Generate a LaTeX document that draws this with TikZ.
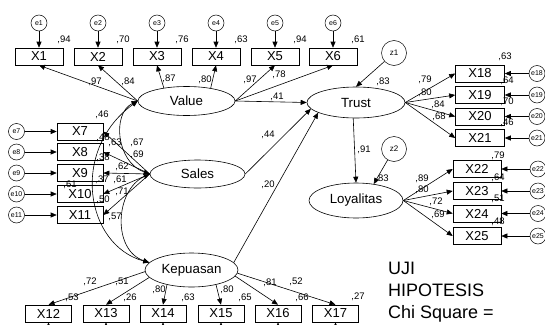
\documentclass[tikz,border=0pt]{standalone}
\usepackage{fontspec}
\setmainfont{Liberation Sans}
\usetikzlibrary{arrows.meta,shapes.geometric}
\begin{document}
\begin{tikzpicture}[x=1pt,y=-1pt,
  obs/.style={draw, line width=0.6pt, minimum height=17pt, inner sep=0pt, font=\fontsize{13}{13}\selectfont},
  lat/.style={draw, ellipse, line width=0.6pt, inner sep=0pt, font=\fontsize{13.3}{14}\selectfont},
  err/.style={draw, circle, line width=0.5pt, minimum size=16pt, inner sep=0pt, font=\fontsize{7}{7}\selectfont},
  res/.style={draw, circle, line width=0.5pt, minimum size=25pt, inner sep=0pt, font=\fontsize{8}{9}\selectfont},
  coef/.style={inner sep=0pt, font=\fontsize{9.5}{10}\selectfont},
  big/.style={inner sep=0pt, anchor=base west, font=\fontsize{18}{22}\selectfont},
  arr/.style={line width=0.6pt, -{Triangle[length=6pt,width=5pt]}},
  cov/.style={line width=0.6pt, {Triangle[length=6pt,width=5pt]}-{Triangle[length=6pt,width=5pt]}},
]
\useasboundingbox (0,0) rectangle (545,324);
\clip (0,0) rectangle (545,324);
\fill[white] (0,0) rectangle (545,324);

% latent variables
\node[lat, minimum width=97pt, minimum height=29pt] (V) at (186.5,101) {Value};
\node[lat, minimum width=95pt, minimum height=28pt] (S) at (197.5,174) {Sales};
\node[lat, minimum width=93pt, minimum height=34pt] (K) at (191.5,270) {Kepuasan};
\node[lat, minimum width=98pt, minimum height=31pt] (T) at (356,102.5) {Trust};
\node[lat, minimum width=94pt, minimum height=35pt] (L) at (356,200.5) {Loyalitas};
\node[res] (z1) at (394,53) {z1};
\node[res] (z2) at (394,149) {z2};

% top indicators
\foreach \i/\x in {1/39,2/98,3/157,4/216,5/275,6/333}{
  \node[obs, minimum width=48pt] (X\i) at (\x,56.5) {X\i};
  \node[err] (e\i) at (\x,23) {e\i};
  \draw[arr] (e\i) -- (X\i);
}
% left indicators
\foreach \i/\y in {7/131.5,8/152,9/173,10/194,11/215}{
  \node[obs, minimum width=46pt] (X\i) at (80,\y) {X\i};
  \node[err] (e\i) at (16.5,\y) {e\i};
  \draw[arr] (e\i) -- (X\i);
}
% right indicators
\foreach \i/\y in {18/73.5,19/95,20/116.5,21/138}{
  \node[obs, minimum width=49pt] (X\i) at (480,\y) {X\i};
  \node[err] (e\i) at (537,\y) {e\i};
  \draw[arr] (e\i) -- (X\i);
}
\foreach \i/\y in {22/169,23/191,24/213.5,25/236}{
  \node[obs, minimum width=48pt] (X\i) at (477,\y) {X\i};
  \node[err] (e\i) at (538,\y) {e\i};
  \draw[arr] (e\i) -- (X\i);
}
% bottom indicators
\foreach \i/\x in {12/48.5,13/106,14/163,15/221,16/278,17/335.5}{
  \node[obs, minimum width=46pt] (X\i) at (\x,313.5) {X\i};
  \coordinate (b\i) at (\x,345);
  \draw[arr] (b\i) -- (X\i.south);
}

% loadings
\draw[arr] (V.west) -- (X1.south);
\draw[arr] (V.west) -- (X2.south);
\draw[arr] (V.150) -- (X3.south);
\draw[arr] (V.28) -- (X4.south);
\draw[arr] (V.east) -- (X5.south);
\draw[arr] (V.east) -- (X6.south);
\foreach \i in {7,8,9,10,11}{\draw[arr] (S.west) -- (X\i.east);}
\draw[arr] (K.182) -- (X12.north);
\draw[arr] (K.190) -- (X13.north);
\draw[arr] (K.211) -- (X14.north);
\draw[arr] (K.329) -- (X15.north);
\draw[arr] (K.352) -- (X16.north);
\draw[arr] (K.356) -- (X17.north);
\foreach \i in {18,19,20,21}{\draw[arr] (T.east) -- (X\i.west);}
\foreach \i in {22,23,24,25}{\draw[arr] (L.east) -- (X\i.west);}

% structural paths
\draw[arr] (V.east) -- (T.west);
\draw[arr] (S.east) -- (T.188);
\draw[arr] (K.10) -- (T.195);
\draw[arr] (T.260) -- (L.north);
\draw[arr] (z1) -- (T.north);
\draw[arr] (z2) -- (L.43);

% covariances
\draw[cov] (V.west) .. controls (112,113) and (116,162) .. (S.west);
\draw[cov] (S.west) .. controls (115,190) and (112,250) .. (K.170);
\draw[cov] (V.west) .. controls (70,150) and (85,245) .. (K.170);

% coefficients: top
\node[coef] (c1) at (64,40) {,94};
\node[coef] (c2) at (123,40) {,70};
\node[coef] (c3) at (182,40) {,76};
\node[coef] (c4) at (241,40) {,63};
\node[coef] (c5) at (300,40) {,94};
\node[coef] (c6) at (358,40) {,61};
\node[coef] (c7) at (95,82) {,97};
\node[coef] (c8) at (128,82) {,84};
\node[coef] (c9) at (169,79) {,87};
\node[coef] (c10) at (205,80) {,80};
\node[coef] (c11) at (250,80) {,97};
\node[coef] (c12) at (279,75) {,78};
% structural
\node[coef] (c13) at (277,97) {,41};
\node[coef] (c14) at (268,135) {,44};
\node[coef] (c15) at (268,185) {,20};
\node[coef] (c16) at (383,82) {,83};
\node[coef] (c17) at (382,179) {,83};
\node[coef] (c18) at (364,150) {,91};
% trust
\node[coef] (c19) at (425,80) {,79};
\node[coef] (c20) at (425,93) {,80};
\node[coef] (c21) at (438,105) {,84};
\node[coef] (c22) at (439,117) {,68};
\node[coef] (c23) at (505,57) {,63};
\node[coef] (c24) at (507,81) {,64};
\node[coef] (c25) at (507,102) {,70};
\node[coef] (c26) at (507,123) {,46};
% loyalitas
\node[coef] (c27) at (422,179) {,89};
\node[coef] (c28) at (422,190) {,80};
\node[coef] (c29) at (436,202) {,72};
\node[coef] (c30) at (438,215) {,69};
\node[coef] (c31) at (498,156) {,79};
\node[coef] (c32) at (498,178) {,64};
\node[coef] (c33) at (498,199) {,51};
\node[coef] (c34) at (498,222) {,48};
% left
\node[coef] (c35) at (102,115) {,46};
\node[coef] (c36) at (103,138) {,48};
\node[coef] (c37) at (115,143) {,63};
\node[coef] (c38) at (137,143) {,67};
\node[coef] (c39) at (137,155) {,69};
\node[coef] (c40) at (103,158) {,38};
\node[coef] (c41) at (122,167) {,62};
\node[coef] (c42) at (102,180) {,37};
\node[coef] (c43) at (120,180) {,61};
\node[coef] (c44) at (70,185) {,61};
\node[coef] (c45) at (122,192) {,71};
\node[coef] (c46) at (103,200) {,50};
\node[coef] (c47) at (115,217) {,57};
% bottom
\node[coef] (c48) at (90,282) {,72};
\node[coef] (c49) at (122,282) {,51};
\node[coef] (c50) at (159,290) {,80};
\node[coef] (c51) at (227,290) {,80};
\node[coef] (c52) at (270,283) {,81};
\node[coef] (c53) at (296,282) {,52};
\node[coef] (c54) at (72,298) {,53};
\node[coef] (c55) at (130,298) {,26};
\node[coef] (c56) at (188,298) {,63};
\node[coef] (c57) at (245,298) {,65};
\node[coef] (c58) at (302,298) {,66};
\node[coef] (c59) at (358,297) {,27};

% hypothesis text
\node[big] (u1) at (388,274.5) {UJI};
\node[big] (u2) at (388,296.5) {HIPOTESIS};
\node[big] (u3) at (388,318.5) {Chi Square =};
\end{tikzpicture}
\end{document}
